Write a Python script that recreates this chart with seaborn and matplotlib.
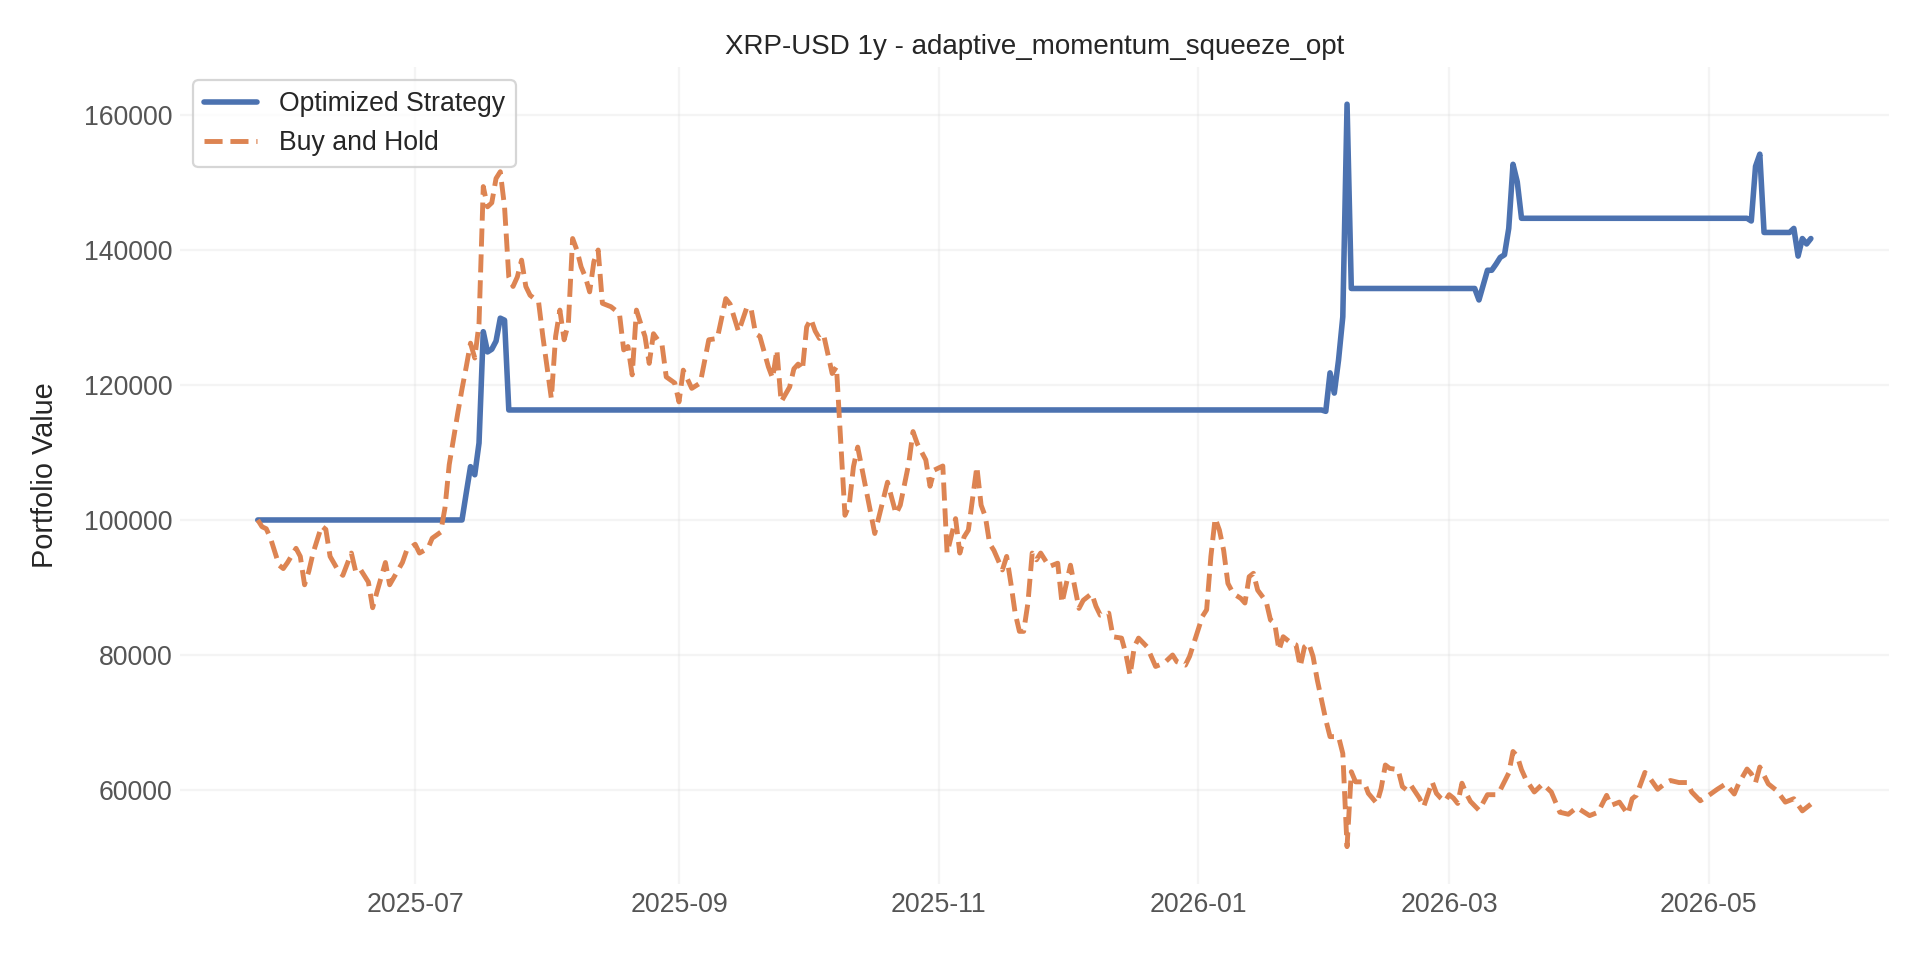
import matplotlib
matplotlib.use("Agg")
import matplotlib.pyplot as plt
import matplotlib.dates as mdates
import pandas as pd
import seaborn as sns

# ---- data ----
strategy_dates = [
    "2025-05-25", "2025-07-12", "2025-07-13", "2025-07-14", "2025-07-15", "2025-07-16",
    "2025-07-17", "2025-07-18", "2025-07-19", "2025-07-20", "2025-07-21", "2025-07-22",
    "2025-07-23", "2026-01-30", "2026-01-31", "2026-02-01", "2026-02-02", "2026-02-03",
    "2026-02-04", "2026-02-05", "2026-02-06", "2026-03-07", "2026-03-08", "2026-03-09",
    "2026-03-10", "2026-03-11", "2026-03-12", "2026-03-13", "2026-03-14", "2026-03-15",
    "2026-03-16", "2026-03-17", "2026-03-18", "2026-05-10", "2026-05-11", "2026-05-12",
    "2026-05-13", "2026-05-14", "2026-05-20", "2026-05-21", "2026-05-22", "2026-05-23",
    "2026-05-24", "2026-05-25",
]
strategy_values = [
    100000, 100000, 104000, 107900, 106700, 111400,
    127900, 124900, 125300, 126500, 129900, 129600,
    116300, 116300, 116100, 121800, 118800, 123700,
    130100, 161600, 134300, 134300, 132600, 134800,
    137000, 137000, 137900, 138900, 139300, 143200,
    152700, 150100, 144700, 144700, 144300, 152400,
    154200, 142600, 142600, 143200, 139100, 141700,
    140900, 141700,
]

bh_dates = [
    "2025-05-25", "2025-05-26", "2025-05-27", "2025-05-28", "2025-05-30", "2025-05-31",
    "2025-06-01", "2025-06-03", "2025-06-04", "2025-06-05", "2025-06-06", "2025-06-07",
    "2025-06-09", "2025-06-10", "2025-06-11", "2025-06-13", "2025-06-14", "2025-06-16",
    "2025-06-17", "2025-06-18", "2025-06-20", "2025-06-21", "2025-06-22", "2025-06-24",
    "2025-06-25", "2025-06-26", "2025-06-28", "2025-06-29", "2025-07-01", "2025-07-02",
    "2025-07-04", "2025-07-05", "2025-07-07", "2025-07-08", "2025-07-09", "2025-07-11",
    "2025-07-12", "2025-07-13", "2025-07-14", "2025-07-15", "2025-07-16", "2025-07-17",
    "2025-07-18", "2025-07-19", "2025-07-20", "2025-07-21", "2025-07-22", "2025-07-23",
    "2025-07-24", "2025-07-25", "2025-07-26", "2025-07-27", "2025-07-28", "2025-07-30",
    "2025-07-31", "2025-08-02", "2025-08-03", "2025-08-04", "2025-08-05", "2025-08-06",
    "2025-08-07", "2025-08-08", "2025-08-09", "2025-08-10", "2025-08-11", "2025-08-12",
    "2025-08-13", "2025-08-14", "2025-08-16", "2025-08-18", "2025-08-19", "2025-08-20",
    "2025-08-21", "2025-08-22", "2025-08-23", "2025-08-24", "2025-08-25", "2025-08-26",
    "2025-08-27", "2025-08-28", "2025-08-29", "2025-08-31", "2025-09-01", "2025-09-02",
    "2025-09-04", "2025-09-06", "2025-09-08", "2025-09-10", "2025-09-12", "2025-09-13",
    "2025-09-15", "2025-09-17", "2025-09-18", "2025-09-19", "2025-09-20", "2025-09-22",
    "2025-09-23", "2025-09-24", "2025-09-25", "2025-09-27", "2025-09-28", "2025-09-29",
    "2025-09-30", "2025-10-01", "2025-10-02", "2025-10-03", "2025-10-04", "2025-10-05",
    "2025-10-07", "2025-10-08", "2025-10-10", "2025-10-11", "2025-10-12", "2025-10-13",
    "2025-10-15", "2025-10-17", "2025-10-18", "2025-10-20", "2025-10-22", "2025-10-23",
    "2025-10-25", "2025-10-26", "2025-10-27", "2025-10-29", "2025-10-30", "2025-10-31",
    "2025-11-02", "2025-11-03", "2025-11-05", "2025-11-06", "2025-11-07", "2025-11-08",
    "2025-11-10", "2025-11-11", "2025-11-12", "2025-11-13", "2025-11-14", "2025-11-16",
    "2025-11-17", "2025-11-18", "2025-11-19", "2025-11-20", "2025-11-21", "2025-11-22",
    "2025-11-23", "2025-11-24", "2025-11-25", "2025-11-27", "2025-11-29", "2025-11-30",
    "2025-12-02", "2025-12-03", "2025-12-04", "2025-12-05", "2025-12-07", "2025-12-08",
    "2025-12-09", "2025-12-11", "2025-12-12", "2025-12-14", "2025-12-15", "2025-12-16",
    "2025-12-17", "2025-12-18", "2025-12-20", "2025-12-22", "2025-12-24", "2025-12-26",
    "2025-12-27", "2025-12-29", "2025-12-30", "2026-01-01", "2026-01-02", "2026-01-03",
    "2026-01-04", "2026-01-05", "2026-01-06", "2026-01-07", "2026-01-08", "2026-01-09",
    "2026-01-10", "2026-01-11", "2026-01-12", "2026-01-13", "2026-01-14", "2026-01-15",
    "2026-01-17", "2026-01-18", "2026-01-19", "2026-01-20", "2026-01-21", "2026-01-23",
    "2026-01-24", "2026-01-25", "2026-01-26", "2026-01-27", "2026-01-28", "2026-01-29",
    "2026-01-31", "2026-02-01", "2026-02-03", "2026-02-04", "2026-02-05", "2026-02-06",
    "2026-02-07", "2026-02-09", "2026-02-10", "2026-02-12", "2026-02-13", "2026-02-14",
    "2026-02-15", "2026-02-17", "2026-02-18", "2026-02-19", "2026-02-20", "2026-02-22",
    "2026-02-23", "2026-02-25", "2026-02-26", "2026-02-27", "2026-02-28", "2026-03-01",
    "2026-03-02", "2026-03-03", "2026-03-04", "2026-03-05", "2026-03-06", "2026-03-08",
    "2026-03-10", "2026-03-12", "2026-03-13", "2026-03-15", "2026-03-16", "2026-03-17",
    "2026-03-18", "2026-03-19", "2026-03-21", "2026-03-23", "2026-03-25", "2026-03-27",
    "2026-03-29", "2026-03-31", "2026-04-03", "2026-04-05", "2026-04-07", "2026-04-08",
    "2026-04-10", "2026-04-12", "2026-04-13", "2026-04-14", "2026-04-16", "2026-04-17",
    "2026-04-19", "2026-04-21", "2026-04-22", "2026-04-24", "2026-04-26", "2026-04-27",
    "2026-04-29", "2026-05-01", "2026-05-03", "2026-05-05", "2026-05-07", "2026-05-08",
    "2026-05-10", "2026-05-11", "2026-05-12", "2026-05-13", "2026-05-15", "2026-05-17",
    "2026-05-19", "2026-05-21", "2026-05-23", "2026-05-25",
]
bh_values = [
    100000, 99000, 98700, 97300, 93300, 92800,
    93700, 95800, 94600, 90400, 92400, 95100,
    99100, 98600, 94600, 92400, 91800, 95100,
    92400, 92800, 90800, 87000, 89300, 93700,
    90400, 91500, 93700, 95500, 96400, 95100,
    95800, 97300, 98200, 101800, 108200, 115800,
    119400, 122700, 126200, 124000, 129100, 149400,
    146400, 147000, 150600, 151600, 146400, 136000,
    134600, 136000, 138500, 134600, 133300, 132300,
    127200, 118000, 127200, 131100, 126700, 129100,
    141700, 140000, 137500, 136000, 133800, 138300,
    140000, 132100, 131600, 130600, 125200, 125700,
    121500, 131100, 129100, 127200, 123200, 127600,
    126700, 126000, 121200, 120300, 117500, 122200,
    119500, 120300, 126700, 126900, 132800, 132000,
    127900, 131600, 131100, 127600, 127200, 122700,
    121000, 125200, 117500, 119700, 122400, 123100,
    122200, 128600, 129800, 128000, 126900, 127400,
    121700, 122700, 100700, 102200, 107900, 110800,
    104400, 98000, 100500, 105600, 100900, 102200,
    108400, 113100, 111300, 108900, 105000, 107400,
    108000, 95100, 100200, 95100, 97500, 98500,
    107900, 102200, 100500, 96500, 95500, 92600,
    94600, 90600, 86200, 83500, 83500, 87700,
    95100, 94100, 95100, 93100, 93600, 87700,
    93300, 90100, 86900, 88100, 89100, 87200,
    85900, 86200, 82700, 82500, 80200, 77000,
    81200, 82500, 81200, 78300, 78800, 80000,
    79000, 78500, 79800, 83700, 85700, 86700,
    94600, 100250, 98500, 95500, 90600, 89400,
    88800, 88400, 87700, 91600, 92100, 89600,
    87900, 85200, 84700, 80700, 82700, 81700,
    81500, 78300, 81200, 81700, 79800, 76300,
    70400, 67900, 67900, 65400, 51600, 62700,
    61200, 61200, 59500, 58000, 60200, 63700,
    63200, 63000, 60500, 60000, 60700, 58800,
    57500, 61200, 59500, 58800, 58300, 59300,
    58800, 58000, 61000, 59500, 58300, 57000,
    59300, 59300, 60000, 62500, 65700, 65000,
    63000, 61600, 59700, 60900, 59700, 56700,
    56400, 57400, 56200, 56700, 59200, 57700,
    58200, 56400, 58700, 59200, 62600, 61900,
    60100, 61100, 61400, 61100, 61100, 59700,
    58400, 59200, 60100, 60900, 59400, 60900,
    63100, 62400, 61100, 63400, 60900, 59900,
    58200, 58700, 56900, 57900,
]

title_text = "XRP-USD 1y - adaptive_momentum_squeeze_opt"
ylabel_text = "Portfolio Value"
series_names = ["Optimized Strategy", "Buy and Hold"]
tick_months = [1, 3, 5, 7, 9, 11]

# ---- plotting ----
sns.set_theme(style="whitegrid")
plt.rcParams["font.family"] = ["Liberation Sans", "DejaVu Sans"]

fig, ax = plt.subplots(figsize=(12, 6), dpi=160)
fig.subplots_adjust(left=0.0938, right=0.9836, top=0.9301, bottom=0.0794)

palette = sns.color_palette("deep")

sns.lineplot(x=pd.to_datetime(strategy_dates), y=strategy_values, ax=ax,
             label=series_names[0], color=palette[0], linewidth=2.5)
sns.lineplot(x=pd.to_datetime(bh_dates), y=bh_values, ax=ax,
             label=series_names[1], color=palette[1], linewidth=2.2, linestyle="--")

ax.set_title(title_text, fontsize=12.5, color="#262626")
ax.set_ylabel(ylabel_text, fontsize=13, color="#262626", labelpad=11)
ax.set_xlabel("")

ax.xaxis.set_major_locator(mdates.MonthLocator(bymonth=tick_months))
ax.xaxis.set_major_formatter(mdates.DateFormatter("%Y-%m"))
ax.tick_params(axis="both", labelsize=12, labelcolor="#555555", length=0)

ax.grid(True, alpha=0.2)
for s in ax.spines.values():
    s.set_visible(False)

leg = ax.legend(loc="upper left", fontsize=12, frameon=True)
for t in leg.get_texts():
    t.set_color("#262626")

fig.savefig("out.png", dpi=160)
